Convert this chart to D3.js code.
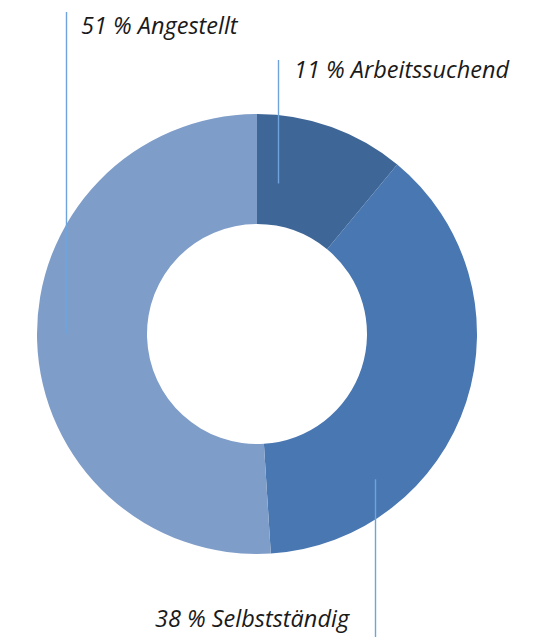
<!DOCTYPE html>
<html>
<head>
<meta charset="utf-8">
<script src="https://cdn.jsdelivr.net/npm/d3@7"></script>
<style>
  body { margin: 0; background: #fff; }
  svg text { font-family: "Open Sans", "Noto Sans", sans-serif; font-style: italic; }
</style>
</head>
<body>
<div id="chart"></div>
<script>
// DATA
const categories = ["Arbeitssuchend", "Selbstständig", "Angestellt"];
const shares = [11, 38, 51];

const WIDTH = 542;
const HEIGHT = 638;
const CX = 257;
const CY = 334;
const OUTER = 220;
const INNER = 110;

const colors = ["#3e6697", "#4877b1", "#7f9dc9"];
const lineColor = "#6fa3dc";

// label layout: leader line angle (deg from top) and radius where it touches the ring,
// line end y and text anchor position
const labelLayout = [
  { angle: 8, r: 152, lineTo: 60, tx: 294, ty: 78 },
  { angle: 141, r: 187, lineTo: 637, tx: 155, ty: 627 },
  { angle: 270, r: 191, lineTo: 12, tx: 81, ty: 34 }
];

const svg = d3.select("#chart")
  .append("svg")
  .attr("width", WIDTH)
  .attr("height", HEIGHT);

const g = svg.append("g").attr("transform", `translate(${CX}, ${CY})`);

const pie = d3.pie().sort(null).value(d => d);
const arcs = pie(shares);

const arc = d3.arc().innerRadius(INNER).outerRadius(OUTER);

g.selectAll("path.slice")
  .data(arcs)
  .enter()
  .append("path")
  .attr("class", "slice")
  .attr("d", arc)
  .attr("fill", (d, i) => colors[i]);

// LEADER LINES + LABELS
categories.forEach((c, i) => {
  const L = labelLayout[i];
  const a = L.angle * Math.PI / 180;
  const x = CX + L.r * Math.sin(a);
  const y = CY - L.r * Math.cos(a);
  const lx = Math.round(x) + 0.5;
  svg.append("line")
    .attr("x1", lx).attr("x2", lx)
    .attr("y1", y).attr("y2", L.lineTo)
    .attr("stroke", lineColor)
    .attr("stroke-width", 1.4);
  svg.append("text")
    .attr("x", L.tx)
    .attr("y", L.ty)
    .attr("font-size", 23.5)
    .attr("fill", "#1a1a1a")
    .text(`${shares[i]} % ${c}`);
});
</script>
</body>
</html>
